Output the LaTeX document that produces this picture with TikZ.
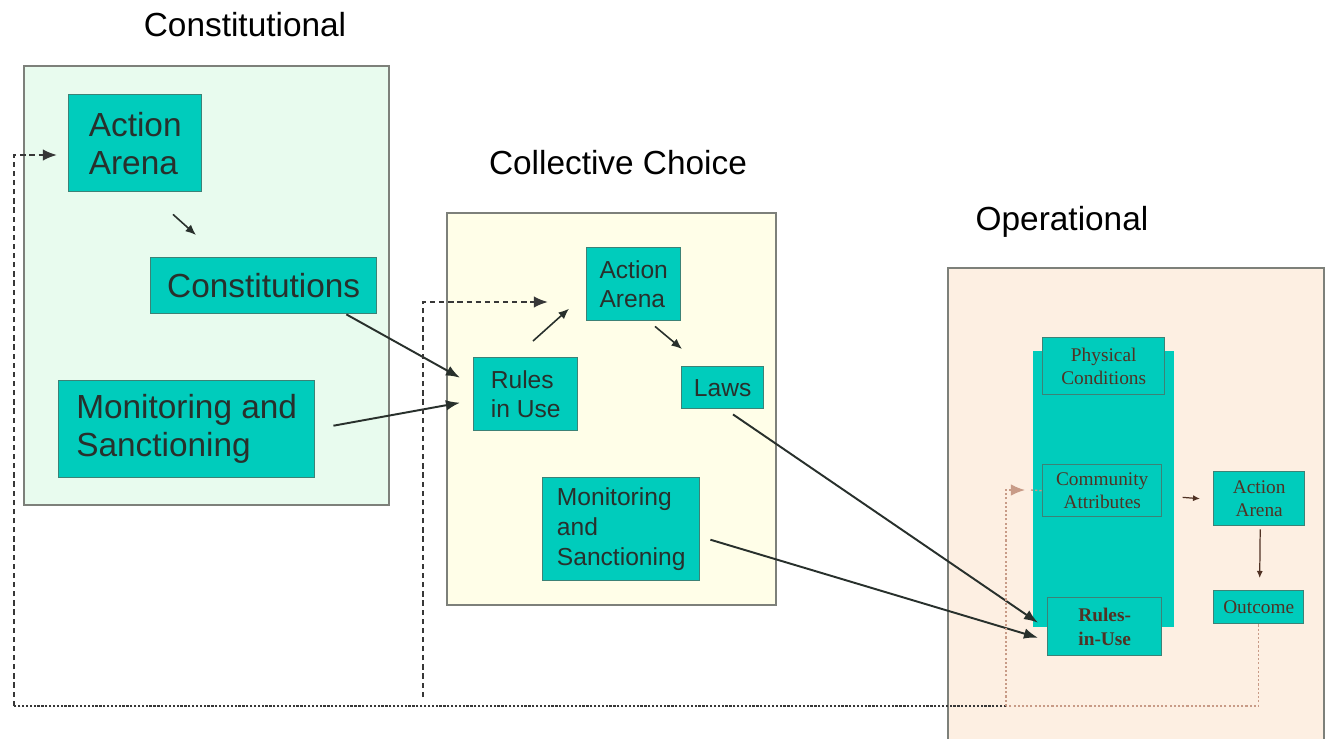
\documentclass[tikz,border=0pt]{standalone}
\usepackage{fontspec}
\setmainfont{Liberation Sans}
\newfontfamily\opserif{Liberation Serif}
\usetikzlibrary{arrows.meta,fit,calc}

\definecolor{tealbox}{RGB}{0,204,188}
\definecolor{tealline}{RGB}{60,130,118}
\definecolor{constfill}{RGB}{232,251,238}
\definecolor{collfill}{RGB}{255,254,232}
\definecolor{opfill}{RGB}{253,239,226}
\definecolor{frame}{RGB}{125,128,122}
\definecolor{ink}{RGB}{40,48,44}
\definecolor{opink}{RGB}{80,50,36}
\definecolor{fbdark}{RGB}{55,55,55}
\definecolor{fblight}{RGB}{200,155,135}

\begin{document}
\begin{tikzpicture}[x=0.02cm,y=-0.02cm,
  level/.style={inner sep=0pt, draw=frame, line width=1.2pt},
  ttl/.style={font=\fontsize{19}{22}\selectfont, text=black, inner sep=0pt},
  % box given by width and height in picture units, placed by its top-left corner
  sz/.style 2 args={minimum width=#1*0.02cm, minimum height=#2*0.02cm, anchor=north west},
  tbox/.style={inner sep=0pt, fill=tealbox, draw=tealline, line width=0.8pt, text=ink, align=left},
  bigtxt/.style={font=\fontsize{19}{21.5}\selectfont},
  midtxt/.style={font=\fontsize{14}{17}\selectfont},
  optxt/.style={font=\opserif\fontsize{11}{13}\selectfont, text=opink, align=center},
  arr/.style={draw=ink, line width=1.1pt, -{Latex[length=8pt,width=6pt]}},
  thinarr/.style={draw=ink, line width=0.9pt, -{Latex[length=6pt,width=5pt]}},
  oparr/.style={draw=opink, line width=0.7pt, -{Latex[length=4pt,width=3.5pt]}},
  fbd/.style={draw=fbdark, line width=1.5pt, dash pattern=on 1.3pt off 0.9pt},
  fbdash/.style={draw=fbdark, line width=1.1pt, dash pattern=on 3pt off 2.2pt},
  fbl/.style={draw=fblight, line width=0.8pt, dash pattern=on 1.2pt off 1.2pt},
  tip/.style={-{Latex[length=8pt,width=6.5pt]}}
]
\useasboundingbox (0,0) rectangle (1330,738);
\fill[white] (0,0) rectangle (1330,738);

% ---------- constitutional level ----------
\node[ttl] (tconst) at (245,25) {Constitutional};
\node[level, fill=constfill, fit={(24,66)(389,505)}] (lconst) {};
\node[tbox, bigtxt, sz={133}{97}] (caa) at (68,94) {Action\\Arena};
\node[tbox, bigtxt, sz={226}{56}] (cons) at (150,257) {Constitutions};
\node[tbox, bigtxt, sz={256}{97}] (cmon) at (58,380) {Monitoring and\\Sanctioning};

% ---------- collective choice level ----------
\node[ttl] (tcoll) at (618,163) {Collective Choice};
\node[level, fill=collfill, fit={(447,213)(776,605)}] (lcoll) {};
\node[tbox, midtxt, sz={94}{73}] (kaa) at (586,247) {Action\\Arena};
\node[tbox, midtxt, sz={104}{73}] (krule) at (473,357) {Rules\\in Use};
\node[tbox, midtxt, sz={82}{42}] (klaws) at (681,366) {Laws};
\node[tbox, midtxt, sz={157}{103}] (kmon) at (542,477) {Monitoring\\and\\Sanctioning};

% ---------- operational level ----------
\node[ttl] (top) at (1062,222) {Operational};
\node[inner sep=0pt, fill=opfill, fit={(948,268)(1324,745)}] (lop) {};
\draw[frame, line width=1.2pt] (lop.south west) |- (lop.north east) -- (lop.south east);
\node[inner sep=0pt, fill=tealbox, sz={141}{276}] (ocol) at (1033,351) {};
\node[tbox, optxt, sz={122}{57}] (ophy) at (1042,337) {Physical\\Conditions};
\node[tbox, optxt, sz={119}{52}] (ocom) at (1042,464) {Community\\Attributes};
\node[tbox, optxt, font=\opserif\bfseries\fontsize{11}{14}\selectfont, sz={114}{58}] (orule) at (1047,597) {Rules-\\in-Use};
\node[tbox, optxt, sz={91}{54}] (oaa) at (1213,471) {Action\\Arena};
\node[tbox, optxt, sz={90}{33}] (oout) at (1213,590) {Outcome};

% ---------- connectors within levels ----------
\draw[thinarr] ($(caa.south west)+(105,22)$) -- ($(cons.north west)+(46,-22)$);
\draw[thinarr] ($(krule.north west)+(60,-16)$) -- ($(kaa.west)+(-17,24.5)$);
\draw[thinarr] ($(kaa.south west)+(69,5)$) -- ($(klaws.north west)+(1,-17)$);
\draw[oparr] ($(ocol.east)+(8,8)$) -- ($(oaa.west)+(-13,0)$);
\draw[oparr] ($(oaa.south)+(1,3)$) -- ($(oout.north)+(1,-12)$);

% ---------- connectors between levels ----------
\draw[arr] ($(cons.south east)+(-31,0)$) -- ($(krule.west)+(-13,-16.5)$);
\draw[arr] ($(cmon.east)+(18,-3.5)$) -- ($(krule.west)+(-13,8.5)$);
\draw[arr] ($(klaws.south west)+(52,5)$) -- ($(orule.west)+(-9,-4)$);
\draw[arr] ($(kmon.east)+(10,10.5)$) -- ($(orule.west)+(-9,11)$);

% ---------- feedback from outcomes ----------
\coordinate (fbM) at (1006,706);
\coordinate (fbL) at (14,706);
\coordinate (fbC) at (57,155);
\coordinate (fbK) at (548,302);
\coordinate (fbO) at (1025,490);
\draw[fbl] (oout.south) |- (fbM);
\draw[fbd] (fbM) -- (fbL);
\draw[fbdash, tip] (fbL) -- (14,155) -- (fbC);
\draw[fbdash, tip] (423,697) |- (fbK);
\draw[fbl, tip] (fbM) |- (fbO);
\draw[fbl] ($(fbO)+(6,0)$) -- (ocom.west);
\end{tikzpicture}
\end{document}
